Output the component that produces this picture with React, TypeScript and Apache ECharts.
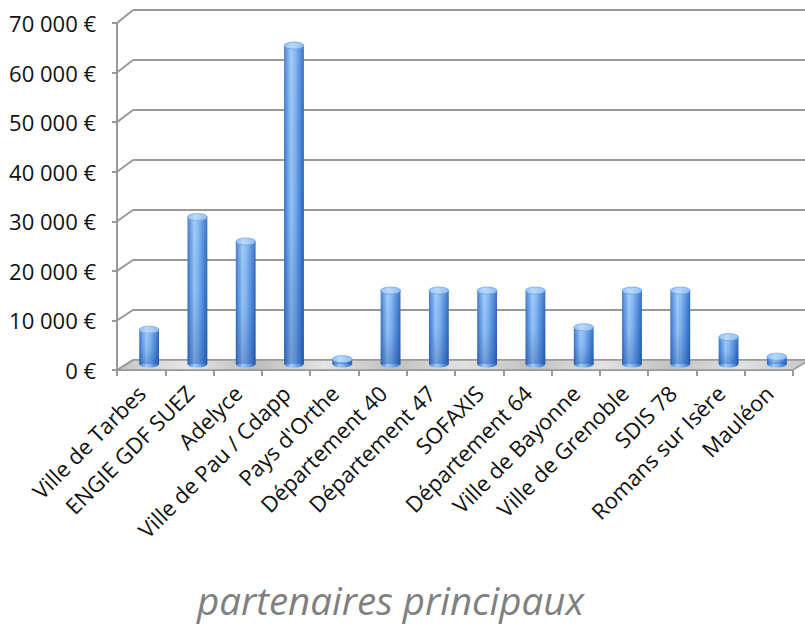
import React, { useEffect, useRef } from "react";
import * as echarts from "echarts";

const categories = [
  "Ville de Tarbes",
  "ENGIE GDF SUEZ",
  "Adelyce",
  "Ville de Pau / Cdapp",
  "Pays d'Orthe",
  "Département 40",
  "Département 47",
  "SOFAXIS",
  "Département 64",
  "Ville de Bayonne",
  "Ville de Grenoble",
  "SDIS 78",
  "Romans sur Isère",
  "Mauléon",
];
const values = [7000, 30000, 25000, 65000, 1000, 15000, 15000, 15000, 15000, 7500, 15000, 15000, 5500, 1500];
const yTicks = [0, 10000, 20000, 30000, 40000, 50000, 60000, 70000];
const Y_MAX = 70000;
const Y_STEP = 10000;
const chartTitle = "partenaires principaux";

const W = 805;
const H = 624;
const FRONT = { left: 117, right: 12, top: 23, bottom: 254 };
const BACK = { left: 133, right: 0, top: 10, bottom: 264 };
const BARS = { left: 125, right: 4, top: 21, bottom: 260 };
const GRID_COLOR = "#999999";
const FONT = "'Open Sans', 'DejaVu Sans', sans-serif";

const backY = (v: number) => BACK.top + (1 - v / Y_MAX) * (H - BACK.top - BACK.bottom);
const DX = BACK.left - FRONT.left;

export default function App() {
  const ref = useRef<HTMLDivElement>(null);
  useEffect(() => {
    if (!ref.current) return;
    const chart = echarts.init(ref.current, null, { renderer: "svg" });
    const option: any = {
      animation: false,
      backgroundColor: "#ffffff",
      title: {
        text: chartTitle,
        left: 192,
        top: 575,
        textStyle: {
          fontSize: 38.5,
          fontStyle: "italic",
          fontWeight: "normal",
          color: "#7f7f7f",
          fontFamily: FONT,
        },
      },
      grid: [
        { ...FRONT, containLabel: false },
        { ...BACK, containLabel: false },
        { ...BARS, containLabel: false },
      ],
      xAxis: [
        {
          gridIndex: 0,
          type: "category",
          data: categories,
          boundaryGap: true,
          axisLine: { show: true, lineStyle: { color: GRID_COLOR, width: 2 } },
          axisTick: { show: true, length: 6, lineStyle: { color: GRID_COLOR, width: 2 } },
          axisLabel: {
            interval: 0,
            rotate: 45,
            margin: 19,
            fontSize: 22,
            color: "#111111",
            fontFamily: FONT,
          },
          splitLine: { show: false },
        },
        { gridIndex: 1, type: "value", min: 0, max: 1, show: false },
        { gridIndex: 2, type: "category", data: categories, show: false, boundaryGap: true },
      ],
      yAxis: [
        {
          gridIndex: 0,
          type: "value",
          min: 0,
          max: Y_MAX,
          interval: Y_STEP,
          axisLine: { show: true, lineStyle: { color: GRID_COLOR, width: 2 } },
          axisTick: { show: true, length: 5, lineStyle: { color: GRID_COLOR, width: 2 } },
          axisLabel: {
            margin: 21,
            fontSize: 22,
            color: "#111111",
            fontFamily: FONT,
            formatter: (v: number) => (v === 0 ? "0 €" : `${v / 1000} 000 €`),
          },
          splitLine: { show: false },
        },
        {
          gridIndex: 1,
          type: "value",
          min: 0,
          max: Y_MAX,
          interval: Y_STEP,
          axisLine: { show: false },
          axisTick: { show: false },
          axisLabel: { show: false },
          splitLine: { show: true, lineStyle: { color: GRID_COLOR, width: 2 } },
        },
        { gridIndex: 2, type: "value", min: 0, max: Y_MAX, show: false },
      ],
      series: [
        {
          type: "custom",
          name: "floor",
          xAxisIndex: 0,
          yAxisIndex: 0,
          z: 1,
          silent: true,
          data: [[0, 0]],
          renderItem: (params: any, api: any) => {
            const cs = params.coordSys;
            const yf = api.coord([0, 0])[1];
            const yb = backY(0);
            return {
              type: "polygon",
              shape: {
                points: [
                  [cs.x, yf],
                  [cs.x + cs.width, yf],
                  [cs.x + cs.width + DX, yb],
                  [cs.x + DX, yb],
                ],
              },
              style: {
                fill: new echarts.graphic.LinearGradient(0, 0, 1, 0, [
                  { offset: 0, color: "#c4c4c4" },
                  { offset: 0.1, color: "#e6e6e6" },
                  { offset: 0.2, color: "#bcbcbc" },
                  { offset: 0.3, color: "#e4e4e4" },
                  { offset: 0.4, color: "#bfbfbf" },
                  { offset: 0.5, color: "#e2e2e2" },
                  { offset: 0.6, color: "#c0c0c0" },
                  { offset: 0.7, color: "#e2e2e2" },
                  { offset: 0.8, color: "#c2c2c2" },
                  { offset: 0.9, color: "#e0e0e0" },
                  { offset: 1, color: "#c8c8c8" },
                ]),
                stroke: GRID_COLOR,
                lineWidth: 1.5,
              },
            };
          },
        },
        {
          type: "custom",
          name: "depth",
          xAxisIndex: 0,
          yAxisIndex: 0,
          z: 2,
          silent: true,
          data: yTicks.map((v) => [0, v]),
          renderItem: (params: any, api: any) => {
            const cs = params.coordSys;
            const v = api.value(1);
            const yf = api.coord([0, v])[1];
            return {
              type: "line",
              shape: { x1: cs.x, y1: yf, x2: cs.x + DX, y2: backY(v) },
              style: { stroke: GRID_COLOR, lineWidth: 2 },
            };
          },
        },
        {
          type: "custom",
          name: "montant",
          xAxisIndex: 2,
          yAxisIndex: 2,
          z: 5,
          data: values.map((v, i) => [i, v]),
          renderItem: (params: any, api: any) => {
            const i = api.value(0);
            const v = api.value(1);
            const top = api.coord([i, v]);
            const base = api.coord([i, 0]);
            const w = api.size([1, 0])[0] * 0.41;
            const rx = w / 2;
            const ry = 3.5;
            const cx = top[0];
            const body = new echarts.graphic.LinearGradient(0, 0, 1, 0, [
              { offset: 0, color: "#3670c4" },
              { offset: 0.12, color: "#5a94e0" },
              { offset: 0.35, color: "#9dc9f8" },
              { offset: 0.55, color: "#80b4f0" },
              { offset: 0.85, color: "#4282d6" },
              { offset: 1, color: "#2d63b4" },
            ]);
            return {
              type: "group",
              children: [
                {
                  type: "ellipse",
                  shape: { cx, cy: base[1], rx, ry },
                  style: { fill: body },
                },
                {
                  type: "rect",
                  shape: { x: cx - rx, y: top[1], width: w, height: base[1] - top[1] },
                  style: { fill: body },
                },
                {
                  type: "rect",
                  shape: { x: cx - rx, y: top[1], width: w, height: base[1] - top[1] },
                  style: {
                    fill: new echarts.graphic.LinearGradient(0, 0, 0, 1, [
                      { offset: 0, color: "rgba(255,255,255,0.1)" },
                      { offset: 0.5, color: "rgba(20,70,160,0.05)" },
                      { offset: 1, color: "rgba(10,50,130,0.3)" },
                    ]),
                  },
                },
                {
                  type: "ellipse",
                  shape: { cx, cy: top[1], rx, ry },
                  style: {
                    fill: new echarts.graphic.LinearGradient(0, 0, 1, 0, [
                      { offset: 0, color: "#94c1f4" },
                      { offset: 0.4, color: "#bad9fb" },
                      { offset: 1, color: "#90bcf0" },
                    ]),
                    stroke: "#5f95dc",
                    lineWidth: 0.6,
                  },
                },
              ],
            };
          },
        },
      ],
    };
    chart.setOption(option);
    return () => chart.dispose();
  }, []);
  return (
    <div
      ref={ref}
      style={{ position: "fixed", left: 0, top: 0, width: W, height: H, background: "#fff" }}
    />
  );
}
